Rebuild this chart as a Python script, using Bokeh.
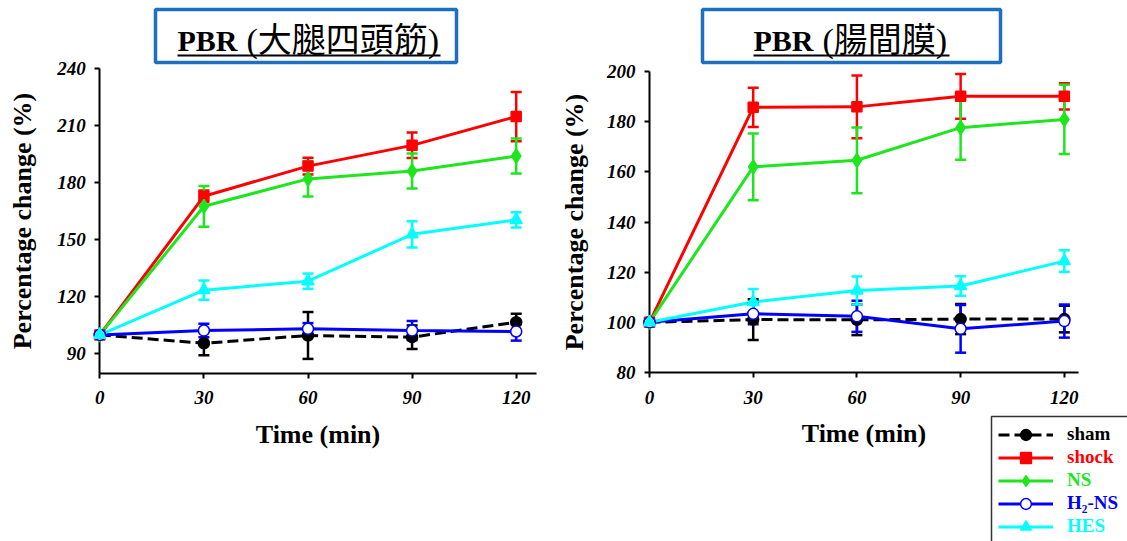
from bokeh.plotting import figure
from bokeh.models import (Range1d, FixedTicker, Whisker, TeeHead, ColumnDataSource,
                          Legend, LegendItem, Label, BoxAnnotation, LinearAxis)
from bokeh.layouts import row
from bokeh.embed import file_html
from bokeh.resources import INLINE

# ---------------- data ----------------
time_min = [0, 30, 60, 90, 120]
group_names = ["sham", "shock", "NS", "H₂-NS", "HES"]

# PBR quadriceps (大腿四頭筋)
quad_sham = [100, 95.6, 99.7, 98.8, 106.7]
quad_sham_err = [0, 6.3, 12.3, 6.2, 4.4]
quad_shock = [100, 172.8, 188.6, 199.5, 214.6]
quad_shock_err = [0, 3.0, 4.4, 6.7, 12.9]
quad_ns = [100, 167.5, 181.9, 186.0, 193.9]
quad_ns_err = [0, 10.7, 9.2, 9.2, 9.2]
quad_h2ns = [100, 102.3, 103.2, 102.3, 101.8]
quad_h2ns_err = [0, 3.5, 3.0, 5.0, 4.8]
quad_hes = [100, 123.5, 128.2, 152.8, 160.4]
quad_hes_err = [0, 5.0, 4.0, 6.9, 4.0]

# PBR mesentery (腸間膜)
mes_sham = [100, 101.1, 101.0, 101.3, 101.3]
mes_sham_err = [0, 8.1, 6.1, 6.0, 5.3]
mes_shock = [100, 185.7, 185.9, 190.1, 190.1]
mes_shock_err = [0, 7.8, 12.5, 8.9, 5.2]
mes_ns = [100, 162.0, 164.6, 177.6, 180.9]
mes_ns_err = [0, 13.3, 13.1, 12.8, 13.8]
mes_h2ns = [100, 103.4, 102.4, 97.4, 100.5]
mes_h2ns_err = [0, 4.2, 6.2, 9.5, 6.6]
mes_hes = [100, 108.1, 112.7, 114.5, 124.4]
mes_hes_err = [0, 5.2, 5.6, 3.9, 4.3]

quad_yticks = [90, 120, 150, 180, 210, 240]
mes_yticks = [80, 100, 120, 140, 160, 180, 200]

# ---------------- styles ----------------
SERIF = "Liberation Serif"
CJK = "'Liberation Serif', 'Noto Sans CJK TC'"
H = 541
BOX_BLUE = "#1F6FC0"
styles = {
    "sham": dict(color="#000000", dash="11 5", marker="circle", fill="#000000", size=11),
    "shock": dict(color="#FF0000", dash="solid", marker="square", fill="#FF0000", size=10),
    "NS": dict(color="#1EE61E", dash="solid", marker="diamond", fill="#1EE61E", size=14),
    "H₂-NS": dict(color="#0000FF", dash="solid", marker="circle", fill="#FFFFFF", size=11),
    "HES": dict(color="#00FFFF", dash="solid", marker="triangle", fill="#00FFFF", size=12),
}


def style_axis(ax):
    ax.axis_line_width = 2
    ax.axis_line_color = "black"
    ax.major_tick_line_width = 2
    ax.major_tick_out = 5
    ax.major_tick_in = 0
    ax.minor_tick_out = 0
    ax.minor_tick_in = 0
    ax.major_label_text_font = SERIF
    ax.major_label_text_font_style = "bold italic"
    ax.major_label_text_font_size = "19px"
    ax.major_label_text_color = "black"
    ax.axis_label_text_font = SERIF
    ax.axis_label_text_font_style = "bold"
    ax.axis_label_text_font_size = "26px"
    ax.axis_label_text_color = "black"


def canvas_box(left, right, top, bottom, **kw):
    kw.setdefault("level", "overlay")
    return BoxAnnotation(left=left, right=right, top=top, bottom=bottom,
                         left_units="canvas", right_units="canvas",
                         top_units="canvas", bottom_units="canvas", **kw)


def make_chart(width, px_x0, px_per_x, x_end, px_ytop, px_ybot, y0, y1, yticks,
               values, errors, cjk_title, box_l, box_r, text_x, cjk_x, text_end,
               ylabel_standoff):
    # whole canvas is the frame; axes are pinned at data locations
    ppy = (px_ybot - px_ytop) / (y1 - y0)
    xr = Range1d(-px_x0 / px_per_x, (width - px_x0) / px_per_x)
    yr = Range1d(y0 - (H - px_ybot) / ppy, y1 + px_ytop / ppy)
    p = figure(width=width, height=H, output_backend="svg", toolbar_location=None,
               x_range=xr, y_range=yr, x_axis_location=None, y_axis_location=None,
               min_border=0, min_border_left=0, min_border_right=0,
               min_border_top=0, min_border_bottom=0, title=None)
    p.outline_line_color = None
    p.grid.visible = False
    p.background_fill_color = "white"
    p.border_fill_color = "white"

    xaxis = LinearAxis(fixed_location=y0, bounds=(0, x_end),
                       ticker=FixedTicker(ticks=time_min), axis_label="Time (min)")
    yaxis = LinearAxis(fixed_location=0, bounds=(y0, y1),
                       ticker=FixedTicker(ticks=yticks), axis_label="Percentage change (%)")
    style_axis(xaxis)
    style_axis(yaxis)
    xaxis.major_label_standoff = 13
    yaxis.major_label_standoff = 9
    xaxis.axis_label_standoff = 12
    yaxis.axis_label_standoff = ylabel_standoff
    p.add_layout(xaxis, "below")
    p.add_layout(yaxis, "left")

    rends = {}
    for g, vals, errs in zip(group_names, values, errors):
        st = styles[g]
        src = ColumnDataSource(dict(x=time_min, y=vals))
        lr = p.line("x", "y", source=src, line_color=st["color"], line_width=3,
                    line_dash=st["dash"])
        wsrc = ColumnDataSource(dict(
            x=time_min[1:],
            upper=[v + e for v, e in zip(vals[1:], errs[1:])],
            lower=[v - e for v, e in zip(vals[1:], errs[1:])]))
        w = Whisker(base="x", upper="upper", lower="lower", source=wsrc,
                    line_color=st["color"], line_width=2.5, level="annotation",
                    upper_head=TeeHead(size=11, line_color=st["color"], line_width=2.5),
                    lower_head=TeeHead(size=11, line_color=st["color"], line_width=2.5))
        p.add_layout(w)
        sr = p.scatter("x", "y", source=src, marker=st["marker"], size=st["size"],
                       fill_color=st["fill"], line_color=st["color"], line_width=1.5,
                       level="overlay")
        rends[g] = (lr, sr)

    # title box with underlined title
    p.add_layout(canvas_box(box_l, box_r, 9, 62, fill_alpha=0, line_color=BOX_BLUE,
                            line_alpha=1, line_width=3.5))
    p.add_layout(Label(x=text_x, y=40, x_units="canvas", y_units="canvas", text="PBR",
                       text_font=SERIF, text_font_style="bold", text_font_size="30px",
                       text_baseline="alphabetic", text_color="black"))
    p.add_layout(Label(x=cjk_x, y=40, x_units="canvas", y_units="canvas", text=cjk_title,
                       text_font=CJK, text_font_style="normal", text_font_size="34px",
                       text_baseline="alphabetic", text_color="black"))
    p.add_layout(canvas_box(text_x, text_end, 54, 56, fill_color="black", fill_alpha=1,
                            line_alpha=0))
    return p, rends


p1, r1 = make_chart(560, 99.3, 3.47, 125.8, 67.7, 372.5, 80, 240, quad_yticks,
                    [quad_sham, quad_shock, quad_ns, quad_h2ns, quad_hes],
                    [quad_sham_err, quad_shock_err, quad_ns_err, quad_h2ns_err, quad_hes_err],
                    "(大腿四頭筋)", 155, 456, 177, 246, 440, 17)
p2, r2 = make_chart(567, 89, 3.457, 124.1, 71, 372, 80, 200, mes_yticks,
                    [mes_sham, mes_shock, mes_ns, mes_h2ns, mes_hes],
                    [mes_sham_err, mes_shock_err, mes_ns_err, mes_h2ns_err, mes_hes_err],
                    "(腸間膜)", 142, 440, 193, 262, 389, 15)

# legend: bordered box plus one row-legend per group (coloured labels)
leg_x = 431
leg_top = 416
row_c0, row_pitch = 434, 23
pad, gh = 7, 27
p2.add_layout(canvas_box(leg_x, leg_x + 200, leg_top, leg_top + 200, fill_color="white",
                         fill_alpha=1, line_color="#333333", line_alpha=1, line_width=1.5,
                         level="annotation"))
for i, g in enumerate(group_names):
    bottom = row_c0 + i * row_pitch + gh / 2 + pad
    lg = Legend(items=[LegendItem(label=g, renderers=list(r2[g]))],
                location=(leg_x, H - bottom),
                padding=pad, spacing=0, glyph_width=55, glyph_height=gh,
                label_height=gh, label_standoff=14, margin=0,
                label_text_font=SERIF, label_text_font_style="bold",
                label_text_font_size="19px", label_text_color=styles[g]["color"],
                border_line_alpha=0, background_fill_alpha=0)
    p2.add_layout(lg)

layout = row(p1, p2, spacing=0)
open("out.html", "w").write(file_html(layout, INLINE))
